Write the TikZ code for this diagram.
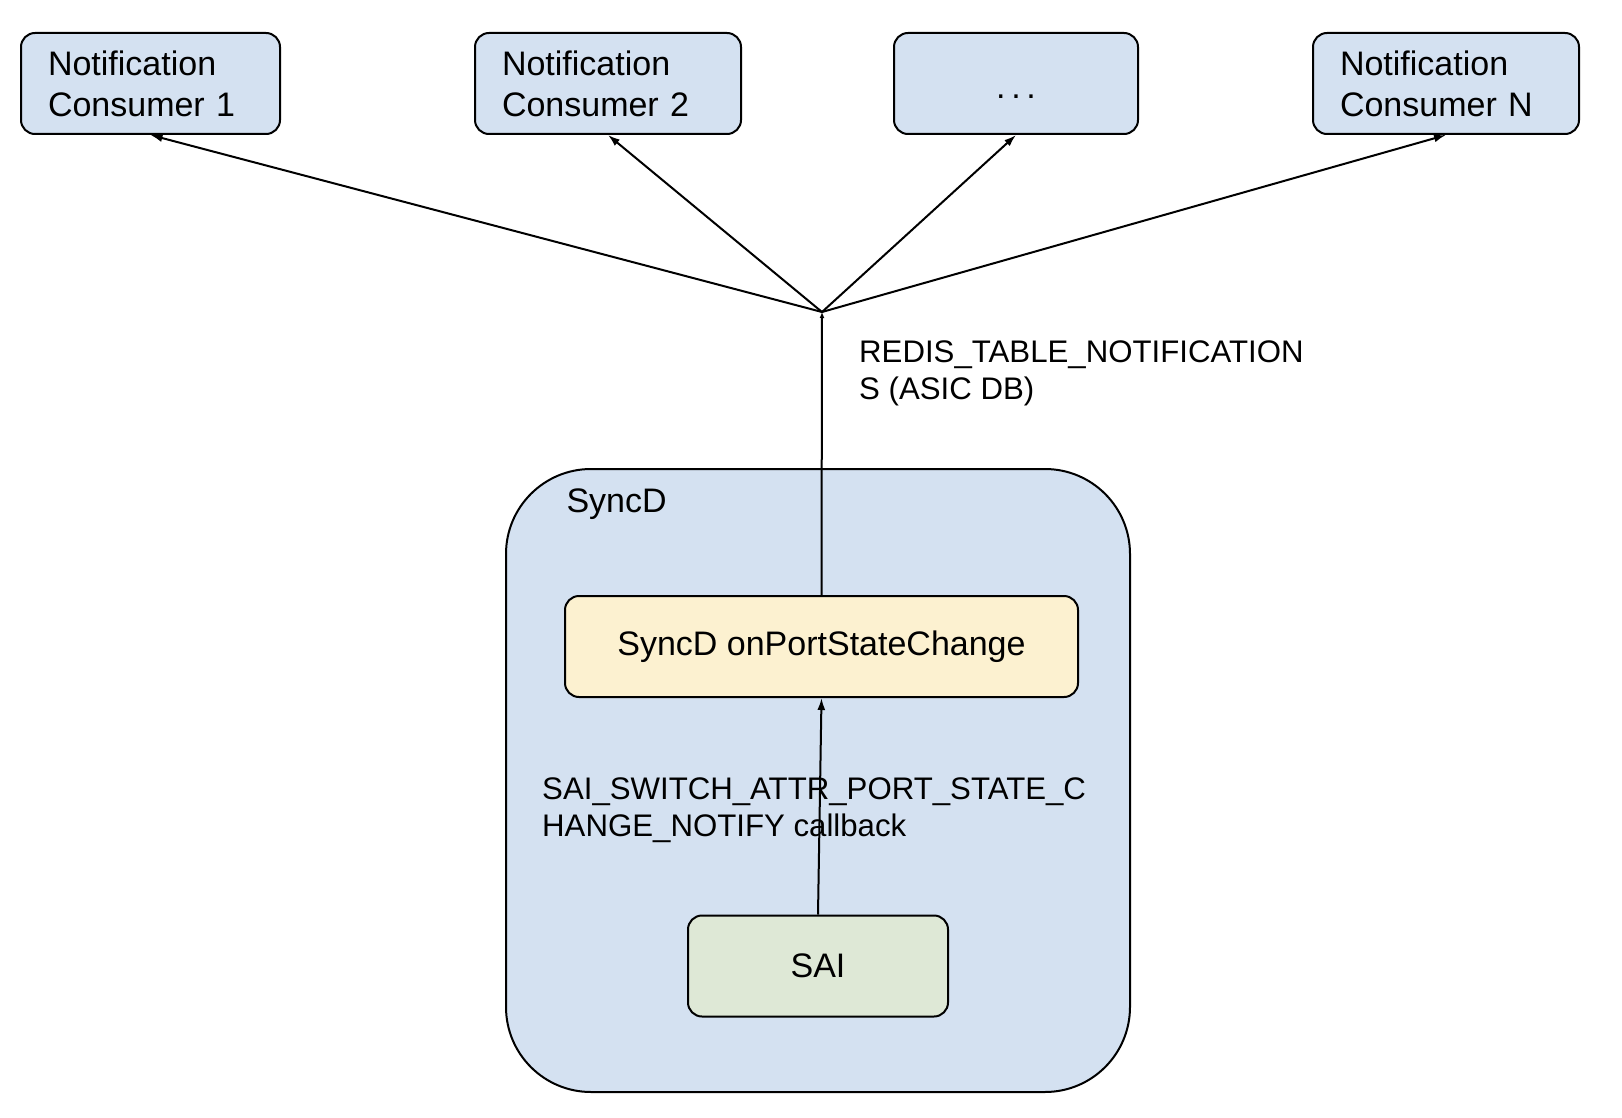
\documentclass[tikz,border=0pt]{standalone}
\usepackage{fontspec}
\setmainfont{Liberation Sans}
\usetikzlibrary{arrows.meta}
\definecolor{boxblue}{HTML}{D4E1F1}
\definecolor{boxyellow}{HTML}{FCF1D0}
\definecolor{boxgreen}{HTML}{DEE8D6}
\newcommand\boxfont{\fontsize{34}{41}\selectfont}
\newcommand\labelfont{\fontsize{31.2}{37}\selectfont}
\tikzset{
  consumer/.style={draw, line width=2pt, rounded corners=14pt, fill=boxblue,
    minimum height=101pt, inner xsep=27pt, text width=#1, align=left, font=\boxfont},
  block/.style={draw, line width=2pt, rounded corners=14pt, minimum height=101pt, font=\boxfont},
  container/.style={draw, line width=2pt, rounded corners=85pt, fill=boxblue,
    minimum width=624pt, minimum height=623pt},
  edgetext/.style={anchor=north west, inner sep=0pt, align=left, font=\labelfont}
}
\begin{document}
\begin{tikzpicture}[x=1pt, y=-1pt, >={Latex[length=12pt,width=8pt]}]
    \useasboundingbox[fill=white] (0,0) rectangle (1622,1118);
    % consumers
    \node[consumer=205pt] (cons1) at (150.5,83.5) {Notification\\Consumer 1};
    \node[consumer=212pt] (cons2) at (608,83.5) {Notification\\Consumer 2};
    \node[consumer=190pt, align=center, text height=31pt, text depth=0pt] (consdots) at (1016,83.5) {.\,.\,.};
    \node[consumer=212pt] (consN) at (1446,83.5) {Notification\\Consumer N};

    % syncd
    \node[container] (syncd) at (818,780.5) {};
    \node[anchor=base west, font=\boxfont] (syncdlabel) at (563,512) {SyncD};
    \node[block, fill=boxyellow, minimum width=513pt] (portstate) at (821.5,646.5) {SyncD onPortStateChange};
    \node[block, fill=boxgreen, minimum width=260pt] (sai) at (818,966) {SAI};

    % connectors
    \coordinate (hub) at (822,312);
    \draw[line width=2pt, -{Latex[length=6pt,width=5pt]}] (portstate.north) -- (hub);
    \foreach \c in {cons1,cons2,consdots,consN}
        \draw[line width=2pt, ->] (hub) -- (\c.south);
    \draw[line width=2pt, ->] (sai.north) -- (portstate.south);

    % labels
    \node[edgetext] (redistext) at (859,341) {REDIS\_TABLE\_NOTIFICATION\\S (ASIC DB)};
    \node[edgetext] (callbacktext) at (542,778) {SAI\_SWITCH\_ATTR\_PORT\_STATE\_C\\HANGE\_NOTIFY callback};
\end{tikzpicture}
\end{document}
